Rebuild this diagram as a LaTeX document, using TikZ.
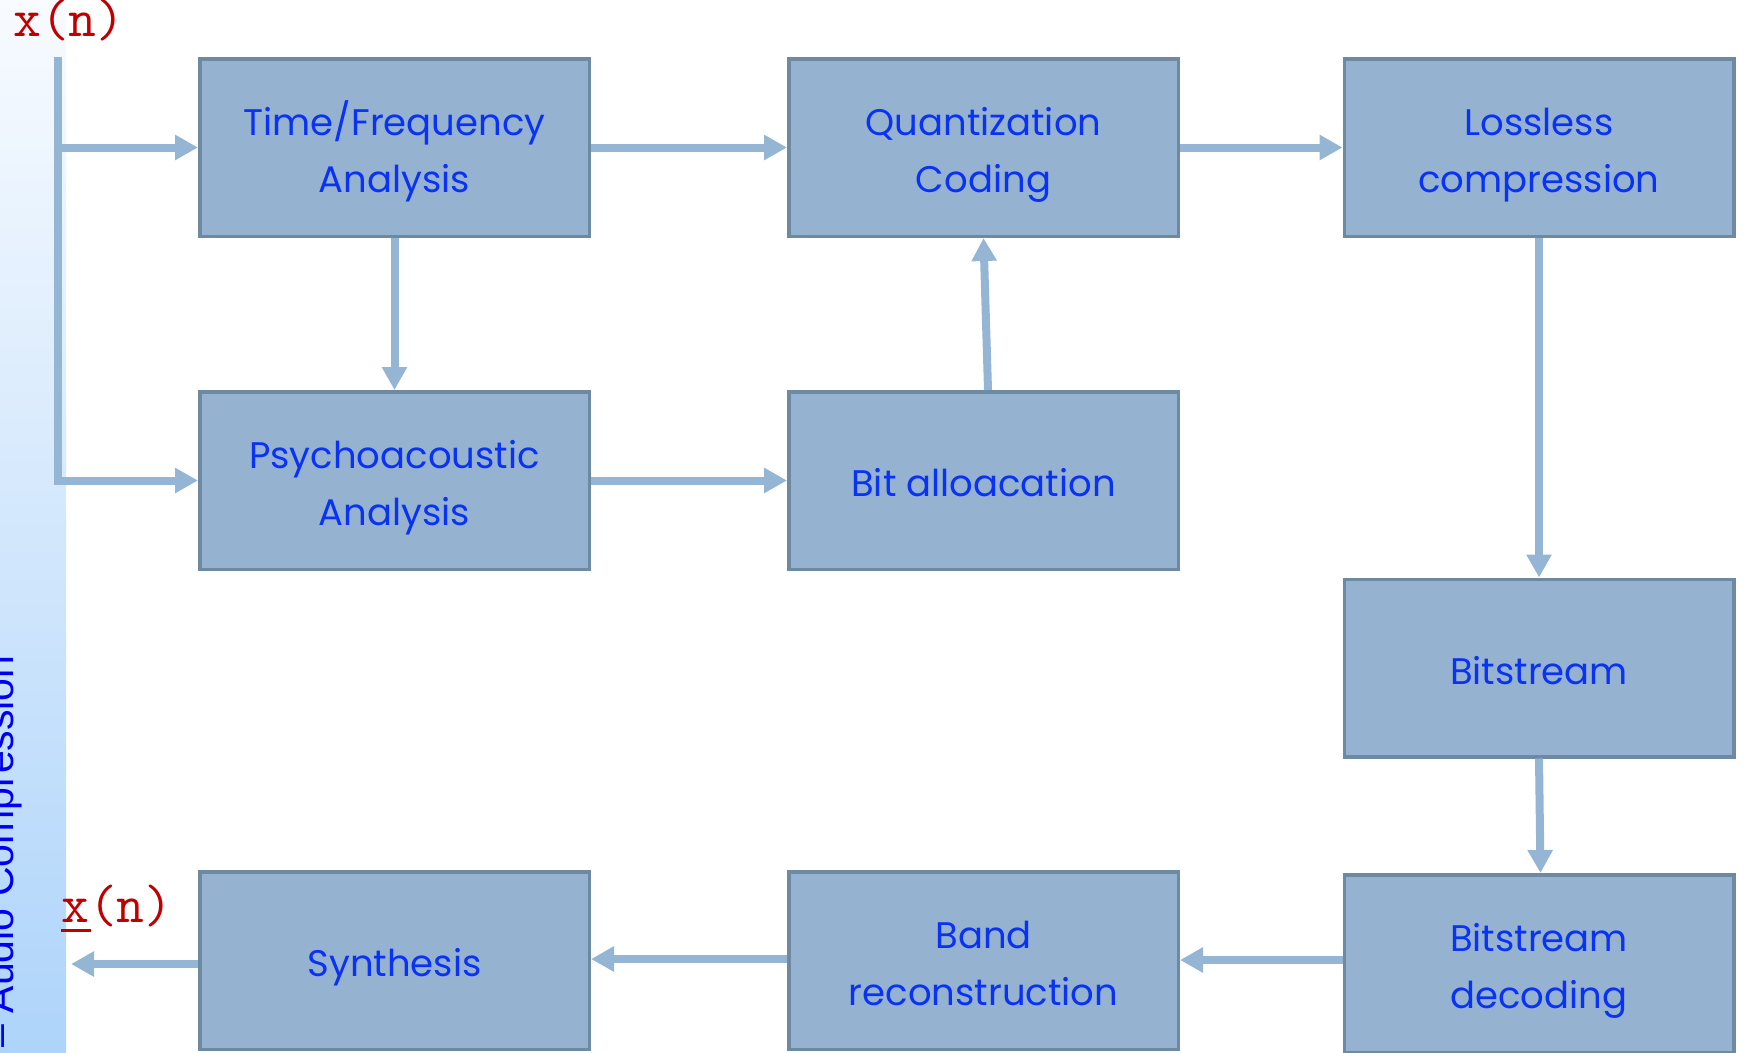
\documentclass[tikz,border=0pt]{standalone}
\usepackage{fontspec}
\setmainfont{Poppins}
\newfontfamily\sidefont{Liberation Sans}
\usetikzlibrary{arrows.meta}

\definecolor{boxfill}{RGB}{149,179,209}
\definecolor{boxedge}{RGB}{110,138,163}
\definecolor{flow}{RGB}{149,181,213}
\definecolor{boxtext}{RGB}{10,50,245}
\definecolor{sidetext}{RGB}{0,0,240}
\definecolor{sig}{RGB}{192,0,0}
\definecolor{bandtop}{RGB}{248,251,255}
\definecolor{bandbot}{RGB}{174,212,250}

\begin{document}
\begin{tikzpicture}[x=1pt,y=-1pt,
  % the struts fix the height above the last baseline and the depth below it
  block/.style={draw=boxedge, fill=boxfill, line width=3.5pt,
    minimum width=389.5pt, minimum height=177.5pt, inner sep=0pt,
    align=center, text=boxtext, font=\fontsize{37}{57}\selectfont,
    execute at begin node={\rule{0pt}{#1}},
    execute at end node={\rule[-12pt]{0pt}{12pt}}},
  block/.default=44pt,
  pairblock/.style={block=101pt},
  flowarrow/.style={draw=flow, line width=8pt,
    -{Triangle[length=23pt,width=24pt]}},
  signal/.style={anchor=base west, inner sep=0pt, text=sig,
    font=\ttfamily\fontsize{54}{54}\selectfont}]

\useasboundingbox (0,0) rectangle (1744,1052);

% side band with its vertical caption
\shade[top color=bandtop, bottom color=bandbot] (0,0) rectangle (66,1052);
\node[rotate=90, anchor=base west, inner sep=0pt, text=sidetext,
  font=\sidefont\fontsize{41}{41}\selectfont] (caption) at (13,1047.5)
  {– Audio Compression};

% processing blocks
\node[pairblock] (tf) at (394.5,147.5) {Time/Frequency\\Analysis};
\node[pairblock] (qc) at (983.5,147.5) {Quantization\\Coding};
\node[pairblock] (lc) at (1539,147.5) {Lossless\\compression};
\node[pairblock] (pa) at (394.5,480.5) {Psychoacoustic\\Analysis};
\node[block] (ba) at (983.5,480.5) {Bit alloacation};
\node[block] (bs) at (1539,668) {Bitstream};
\node[pairblock] (bd) at (1539,963.5) {Bitstream\\decoding};
\node[pairblock] (br) at (983.5,960.5) {Band\\reconstruction};
\node[block] (sy) at (394.5,960.5) {Synthesis};

% input and output signals
\node[signal] (xin) at (13,36) {x(n)};
\node[signal] (xout) at (61,922) {\rlap{\rule[-10pt]{30pt}{3pt}}x(n)};
\coordinate (src) at (58,57);
\coordinate (sink) at (71,964);

% encoder flow
\draw[flowarrow] (src) |- (pa.west);
\draw[flowarrow] (src |- tf.west) -- (tf.west);
\draw[flowarrow] (tf.east) -- (qc.west);
\draw[flowarrow] (qc.east) -- (lc.west);
\draw[flowarrow] (tf.south) -- (pa.north);
\draw[flowarrow] (pa.east) -- (ba.west);
\draw[flowarrow] ([xshift=4.5pt]ba.north) -- (qc.south);
\draw[flowarrow] (lc.south) -- (bs.north);
\draw[flowarrow] (bs.south) -- ([xshift=1.5pt]bd.north);

% decoder flow
\draw[flowarrow] ([yshift=3.5pt]bd.west) -- ([yshift=0.5pt]br.east);
\draw[flowarrow] ([yshift=1.5pt]br.west) -- ([yshift=1.5pt]sy.east);
\draw[flowarrow] ([yshift=-3.5pt]sy.west) -- (sink);
\end{tikzpicture}
\end{document}
